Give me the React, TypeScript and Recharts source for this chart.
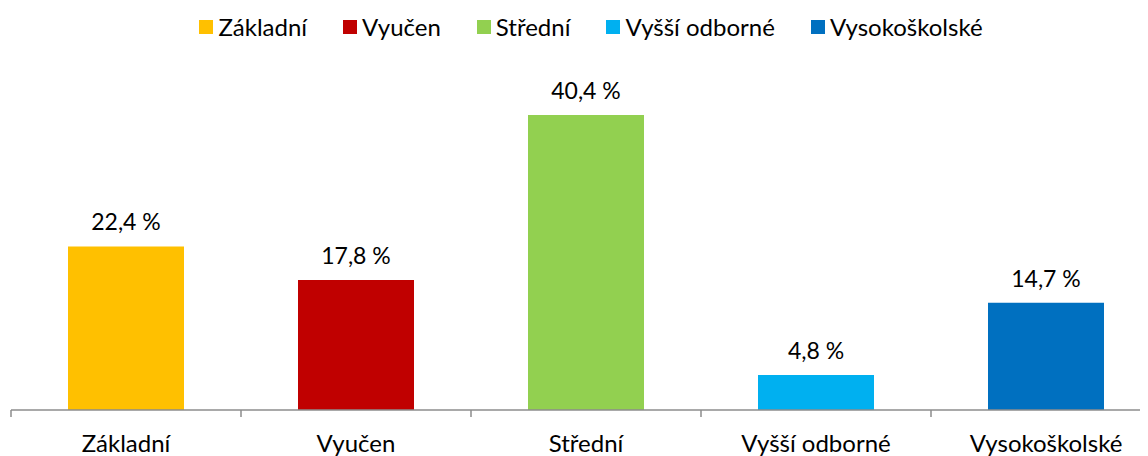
import React from 'react';
import { BarChart, Bar, XAxis, YAxis, Cell, LabelList } from 'recharts';

const categories = ['Základní', 'Vyučen', 'Střední', 'Vyšší odborné', 'Vysokoškolské'];
const shares = [22.4, 17.8, 40.4, 4.8, 14.7];
const colors = ['#FFC000', '#C00000', '#92D050', '#00B0F0', '#0070C0'];

// each category sits in the middle of a unit slot; tick lines mark slot edges
const data = categories.map((name, i) => ({ name, pos: i + 0.5, value: shares[i] }));
const axisTicks = [0, 0.5, 1, 1.5, 2, 2.5, 3, 3.5, 4, 4.5, 5];

const FONT = 'Lato, "Noto Sans", sans-serif';
const AXIS_GRAY = '#8c8c8c';

const formatPct = (v: number) => `${v.toFixed(1).replace('.', ',')} %`;

const SlotTick = (props: any) => {
  const { x, y, payload } = props;
  const v = payload.value as number;
  if (Number.isInteger(v)) {
    return <line x1={x} y1={y} x2={x} y2={y + 7} stroke={AXIS_GRAY} strokeWidth={1.5} />;
  }
  return (
    <text x={x} y={y + 42} textAnchor="middle" fill="#000" fontSize={24} fontFamily={FONT}>
      {categories[Math.floor(v)]}
    </text>
  );
};

const App: React.FC = () => {
  return (
    <div style={{ position: 'relative', width: 1140, height: 448, overflow: 'hidden', fontFamily: FONT }}>
      <div
        style={{
          position: 'absolute',
          top: 5,
          left: 0,
          width: 1166,
          display: 'flex',
          justifyContent: 'center',
          gap: 36,
          fontSize: 24,
          lineHeight: 1.2,
          color: '#000',
        }}
      >
        {categories.map((c, i) => (
          <div key={c} style={{ display: 'flex', alignItems: 'center', gap: 5 }}>
            <span style={{ width: 14, height: 14, background: colors[i], display: 'inline-block' }} />
            <span>{c}</span>
          </div>
        ))}
      </div>
      <div style={{ position: 'absolute', top: 0, left: 0 }}>
        <BarChart
          width={1153}
          height={448}
          data={data}
          margin={{ top: 73.5, right: 0, bottom: 0, left: 3 }}
        >
          <XAxis
            dataKey="pos"
            type="number"
            domain={[0, 5]}
            ticks={axisTicks}
            interval={0}
            height={46}
            tickSize={0}
            tickMargin={0}
            tickLine={false}
            axisLine={{ stroke: AXIS_GRAY, strokeWidth: 1.5 }}
            tick={<SlotTick />}
          />
          <YAxis hide domain={[0, 45]} />
          <Bar dataKey="value" barSize={116} isAnimationActive={false}>
            {data.map((d, i) => (
              <Cell key={d.name} fill={colors[i]} />
            ))}
            <LabelList
              dataKey="value"
              position="top"
              offset={16}
              formatter={(v: number) => formatPct(v)}
              style={{ fill: '#000', fontSize: 23, fontFamily: FONT }}
            />
          </Bar>
        </BarChart>
      </div>
    </div>
  );
};

export default App;
